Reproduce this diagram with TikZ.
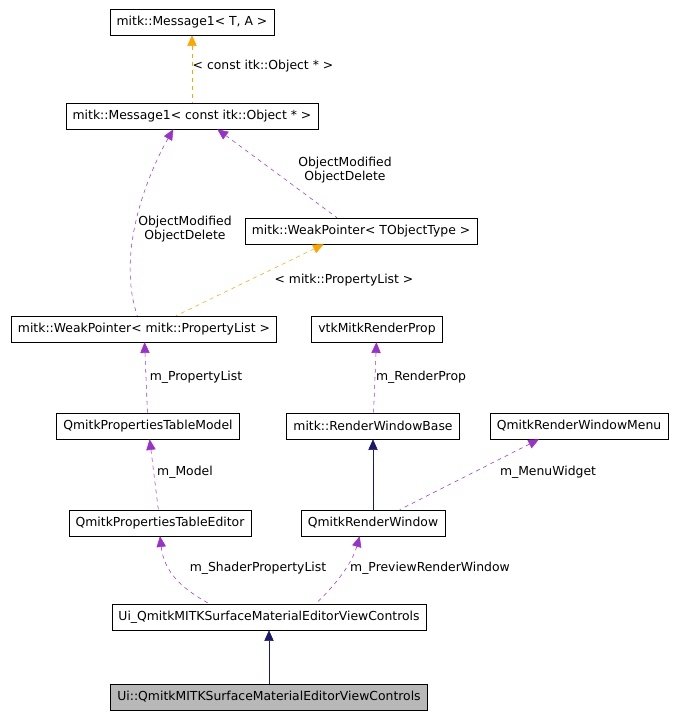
\documentclass[tikz,border=0pt]{standalone}
\usepackage{fontspec}
\setmainfont{DejaVu Sans}
\usetikzlibrary{arrows.meta}

\definecolor{usecol}{RGB}{153,50,204}
\definecolor{tmplcol}{RGB}{255,165,0}
\definecolor{inhcol}{RGB}{25,25,112}

\tikzset{
  box/.style={draw, fill=white, inner xsep=5pt, minimum height=19.5pt, font=\fontsize{9.3}{11}\selectfont},
  lbl/.style={font=\fontsize{9.3}{11}\selectfont, align=center},
  uses/.style={{Triangle[length=8pt,width=7pt]}-, dashed, color=usecol},
  tmpl/.style={{Triangle[length=8pt,width=7pt]}-, dashed, color=tmplcol},
  inh/.style={{Triangle[length=8pt,width=7pt]}-, color=inhcol},
}

\begin{document}
\begin{tikzpicture}[x=0.75pt, y=-0.75pt]
  \useasboundingbox (0,0) rectangle (676,717);

  % classes
  \node[box] (msgta) at (192,22) {mitk::Message1< T, A >};
  \node[box] (msgobj) at (192,116) {mitk::Message1< const itk::Object * >};
  \node[box] (wpt) at (361,231) {mitk::WeakPointer< TObjectType >};
  \node[box] (wppl) at (144,329) {mitk::WeakPointer< mitk::PropertyList >};
  \node[box] (vtkprop) at (377,329) {vtkMitkRenderProp};
  \node[box] (tmodel) at (148,426) {QmitkPropertiesTableModel};
  \node[box] (rwbase) at (373,426) {mitk::RenderWindowBase};
  \node[box] (rwmenu) at (579,426) {QmitkRenderWindowMenu};
  \node[box] (teditor) at (160,523) {QmitkPropertiesTableEditor};
  \node[box] (rwin) at (373,523) {QmitkRenderWindow};
  \node[box] (uictl) at (269,617) {Ui\_QmitkMITKSurfaceMaterialEditorViewControls};
  \node[box, fill=black!28] (uins) at (269,697) {Ui::QmitkMITKSurfaceMaterialEditorViewControls};

  % relations
  \draw[tmpl] (msgta) -- (msgobj);
  \node[lbl] at (263,66) {< const itk::Object * >};

  \draw[uses] ([xshift=19pt]msgobj.south) -- ([xshift=-18pt]wpt.north);
  \node[lbl] at (345,170) {ObjectModified\\ObjectDelete};

  \draw[uses] ([xshift=-14pt]msgobj.south) .. controls (150,170) and (115,250) .. ([xshift=-5pt]wppl.north);
  \node[lbl] at (185,229) {ObjectModified\\ObjectDelete};

  \draw[tmpl] ([xshift=-28pt]wpt.south) -- ([xshift=24pt]wppl.north);
  \node[lbl] at (344,280) {< mitk::PropertyList >};

  \draw[uses] (wppl) -- (tmodel);
  \node[lbl] at (196,377) {m\_PropertyList};

  \draw[uses] (vtkprop) -- (rwbase);
  \node[lbl] at (421,377) {m\_RenderProp};

  \draw[inh] (rwbase) -- (rwin);

  \draw[uses] ([xshift=-30pt]rwmenu.south) -- ([xshift=20pt]rwin.north);
  \node[lbl] at (548,472) {m\_MenuWidget};

  \draw[uses] (tmodel) -- (teditor);
  \node[lbl] at (185,472) {m\_Model};

  \draw[uses] (teditor.south) .. controls (165,580) and (195,595) .. ([xshift=-45pt]uictl.north);
  \node[lbl] at (258,568) {m\_ShaderPropertyList};

  \draw[uses] ([xshift=-10pt]rwin.south) .. controls (350,570) and (325,595) .. ([xshift=35pt]uictl.north);
  \node[lbl] at (430,568) {m\_PreviewRenderWindow};

  \draw[inh] (uictl) -- (uins);
\end{tikzpicture}
\end{document}
